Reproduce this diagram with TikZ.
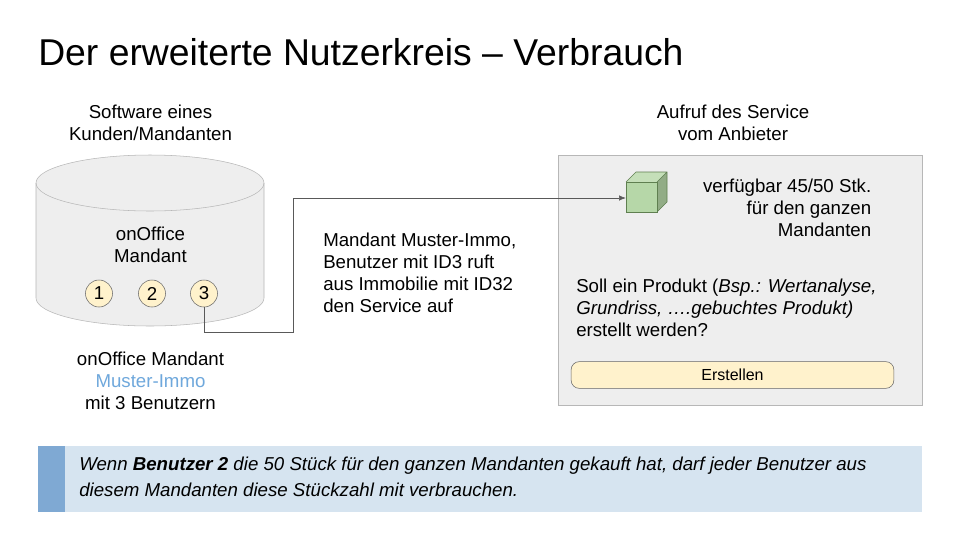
\documentclass[tikz,border=0pt]{standalone}
\usepackage{fontspec}
\setmainfont{Liberation Sans}
\usetikzlibrary{arrows.meta}
\definecolor{boxgray}{HTML}{EEEEEE}
\definecolor{linegray}{HTML}{B7B7B7}
\definecolor{wiregray}{HTML}{595959}
\definecolor{userfill}{HTML}{FFF2CC}
\definecolor{cubefront}{HTML}{B6D7A8}
\definecolor{cubeside}{HTML}{92AC86}
\definecolor{cubetop}{HTML}{C5DFB9}
\definecolor{cubeline}{HTML}{5F7F50}
\definecolor{bandlight}{HTML}{D6E4F0}
\definecolor{banddark}{HTML}{7FA9D3}
\definecolor{muster}{HTML}{6FA8DC}
\tikzset{
	txt/.style={inner sep=0pt,align=center,font=\fontsize{14}{16.5}\selectfont},
	txtl/.style={txt,align=left,anchor=west},
	txtr/.style={txt,align=right,anchor=east},
	usercircle/.style={circle,draw=black!60,fill=userfill,minimum size=20.25pt,inner sep=0pt,font=\fontsize{14}{14}\selectfont},
}
\begin{document}
\begin{tikzpicture}[x=0.75pt,y=-0.75pt]
	\useasboundingbox (0,0) rectangle (960,540);
	\fill[white] (0,0) rectangle (960,540);
	\node[inner sep=0pt,anchor=west,font=\fontsize{28}{32}\selectfont] (title) at (38,52) {Der erweiterte Nutzerkreis -- Verbrauch};
	% cylinder
	\draw[linegray,fill=boxgray] (36,183) -- (36,298) arc[start angle=180,end angle=0,x radius=114,y radius=28] -- (264,183) arc[start angle=0,end angle=-180,x radius=114,y radius=28] -- cycle;
	\draw[linegray] (36,183) arc[start angle=180,end angle=0,x radius=114,y radius=28];
	\node[txt] (soft) at (150.5,123) {Software eines\\Kunden/Mandanten};
	\node[txt] (mand) at (150.5,245) {onOffice\\Mandant};
	\foreach \i/\x in {1/99,2/152,3/204}{
		\node[usercircle] (u\i) at (\x,293.5) {\i};
	}
	\node[txt] (muster) at (150.5,381) {onOffice Mandant\\\textcolor{muster}{Muster-Immo}\\mit 3 Benutzern};
	% service box
	\node[txt] (aufruf) at (733,123) {Aufruf des Service\\vom Anbieter};
	\draw[linegray,fill=boxgray] (558,155) rectangle (922,405);
	\fill[cubetop] (626,182) -- (636,172) -- (667,172) -- (657,182) -- cycle;
	\fill[cubeside] (657,182) -- (667,172) -- (667,202) -- (657,212) -- cycle;
	\draw[cubeline] (626,182) -- (636,172) -- (667,172) -- (667,202) -- (657,212) (657,182) -- (667,172);
	\node[draw=cubeline,fill=cubefront,minimum width=23.25pt,minimum height=22.5pt,inner sep=0pt] (cube) at (641.5,197) {};
	\node[txtr] (avail) at (871.5,207.5) {verfügbar 45/50 Stk.\\für den ganzen\\Mandanten};
	\node[txtl] (frage) at (576,308) {Soll ein Produkt (\textit{Bsp.: Wertanalyse,}\\\textit{Grundriss, ….gebuchtes Produkt)}\\erstellt werden?};
	\node[draw=black!60,fill=userfill,rounded corners=6pt,minimum width=242pt,minimum height=20pt,inner sep=0pt,font=\fontsize{12}{12}\selectfont,text depth=0.6pt] (btn) at (732.5,375) {Erstellen};
	% connector
	\coordinate (k1) at (293,332);
	\coordinate (k2) at (293,198);
	\draw[wiregray,-{Latex[length=5pt,width=4pt]}] (u3.south) |- (k1) -- (k2) -- (cube.west |- k2);
	\node[txtl] (call) at (323,273) {Mandant Muster-Immo,\\Benutzer mit ID3 ruft\\aus Immobilie mit ID32\\den Service auf};
	% note
	\fill[bandlight] (38,446) rectangle (922,512);
	\fill[banddark] (38,446) rectangle (65,512);
	\node[txtl,font=\fontsize{14}{19.5}\selectfont\itshape] (note) at (79,477) {Wenn \textbf{Benutzer 2} die 50 Stück für den ganzen Mandanten gekauft hat, darf jeder Benutzer aus\\diesem Mandanten diese Stückzahl mit verbrauchen.};
\end{tikzpicture}
\end{document}
